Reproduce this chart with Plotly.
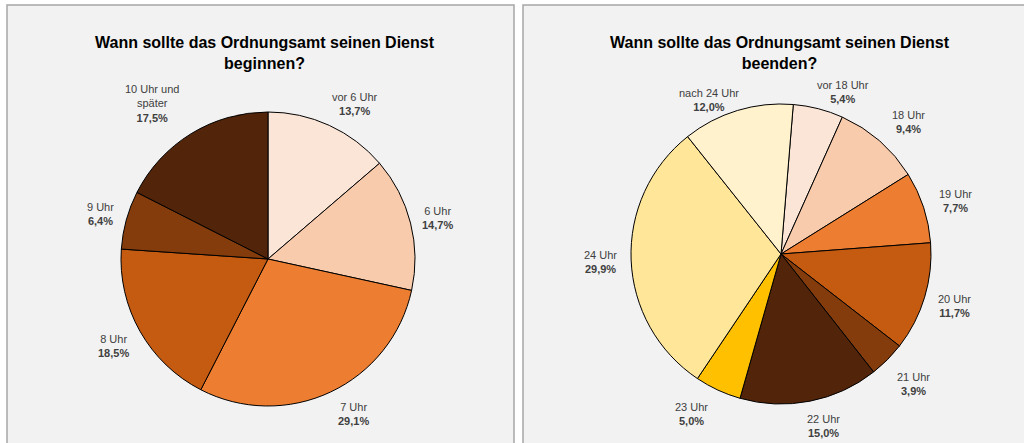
import math
import plotly.graph_objects as go

W, H = 1024, 443

# ---------- data ----------
start_labels = ["vor 6 Uhr", "6 Uhr", "7 Uhr", "8 Uhr", "9 Uhr", "10 Uhr und<br>später"]
start_values = [13.7, 14.7, 29.1, 18.5, 6.4, 17.5]
start_colors = ["#fbe5d6", "#f8cbad", "#ed7d31", "#c55a11", "#843c0c", "#52240a"]

end_labels = ["vor 18 Uhr", "18 Uhr", "19 Uhr", "20 Uhr", "21 Uhr",
              "22 Uhr", "23 Uhr", "24 Uhr", "nach 24 Uhr"]
end_values = [5.4, 9.4, 7.7, 11.7, 3.9, 15.0, 5.0, 29.9, 12.0]
end_colors = ["#fbe5d6", "#f8cbad", "#ed7d31", "#c55a11", "#843c0c",
              "#52240a", "#ffc000", "#ffe699", "#fff2cc"]

title_start = "Wann sollte das Ordnungsamt seinen Dienst<br>beginnen?"
title_end = "Wann sollte das Ordnungsamt seinen Dienst<br>beenden?"

# ---------- layout (pixels) ----------
# (center x, center y, radius, rotation)
pie_left = (268, 259, 147, 0)
pie_right = (781, 254, 150, 4.7)
# small label nudges (px) like Excel's best-fit placement
nudge_left = [(11, 11), (0, 2), (10, -6), (0, 0), (2, 2), (-16, 8)]
nudge_right = [(17, 15), (7, 6), (2, 4), (0, 0), (2, 1), (8, -4), (-13, -5), (-2, 1), (-18, 22)]
FONT = "Liberation Sans"


def px(x):
    return x / W


def py(y):
    return 1 - y / H


def pie_trace(labels, values, colors, geo):
    cx, cy, r, rot = geo
    return go.Pie(
        labels=[l.replace("<br>", " ") for l in labels], values=values,
        marker=dict(colors=colors, line=dict(color="black", width=1)),
        sort=False, direction="clockwise", rotation=rot,
        textinfo="none", hoverinfo="label+percent", showlegend=False,
        domain=dict(x=[px(cx - r), px(cx + r)], y=[py(cy + r), py(cy - r)]),
    )


def label_annotations(labels, values, geo, nudges, gap=11):
    cx, cy, r, rot = geo
    total = sum(values)
    out = []
    cum = 0
    for lab, v, (nx, ny) in zip(labels, values, nudges):
        mid = rot + 360 * (cum + v / 2) / total
        cum += v
        a = math.radians(mid)
        dx, dy = math.sin(a), -math.cos(a)
        lines = lab.split("<br>")
        hw = max(len(s) for s in lines + ["00,0%"]) * 2.8
        hh = (len(lines) + 1) * 7.5
        d = r + gap + abs(dx) * hw + abs(dy) * hh
        txt = lab + "<br><b>" + f"{v:.1f}".replace(".", ",") + "%</b>"
        out.append(dict(x=px(cx + dx * d + nx), y=py(cy + dy * d + ny), xref="paper", yref="paper",
                        text=txt, showarrow=False, xanchor="center", yanchor="middle",
                        font=dict(family=FONT, size=11, color="#404040")))
    return out


fig = go.Figure()
fig.add_trace(pie_trace(start_labels, start_values, start_colors, pie_left))
fig.add_trace(pie_trace(end_labels, end_values, end_colors, pie_right))

shapes = [
    dict(type="rect", xref="paper", yref="paper", x0=px(7), x1=px(514), y0=py(460), y1=py(5),
         fillcolor="#f2f2f2", line=dict(color="#a6a6a6", width=1.5), layer="below"),
    dict(type="rect", xref="paper", yref="paper", x0=px(523), x1=px(1040), y0=py(460), y1=py(5),
         fillcolor="#f2f2f2", line=dict(color="#a6a6a6", width=1.5), layer="below"),
]

annotations = []
for t, cx in [(title_start, 265), (title_end, 780)]:
    annotations.append(dict(x=px(cx), y=py(52.5), xref="paper", yref="paper", text="<b>" + t + "</b>",
                            showarrow=False, xanchor="center", yanchor="middle",
                            font=dict(family=FONT, size=16, color="black")))
annotations += label_annotations(start_labels, start_values, pie_left, nudge_left)
annotations += label_annotations(end_labels, end_values, pie_right, nudge_right)

fig.update_layout(width=W, height=H, margin=dict(l=0, r=0, t=0, b=0),
                  paper_bgcolor="white", plot_bgcolor="white",
                  shapes=shapes, annotations=annotations)
# page body has a default 8px margin; drop it so the figure sits at 0,0
fig.write_html("out.html", config={"displayModeBar": False},
               post_script="document.body.style.margin='0';")
